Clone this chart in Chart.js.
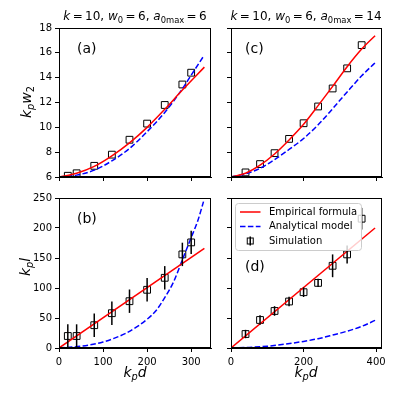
<!DOCTYPE html>
<html lang="en">
<head>
<meta charset="UTF-8">
<title>kp w2 and kp l versus kp d</title>
<script src="https://cdn.jsdelivr.net/npm/chart.js"></script>
<style>
  body { margin: 0; background: #fff; width: 399px; height: 399px; overflow: hidden; position: relative;
         font-family: "DejaVu Sans", sans-serif; color: #000; }
  canvas { position: absolute; }
  .txt { position: absolute; white-space: nowrap; line-height: 1; }
  .ttl { font-size: 12px; transform: translateX(-50%); }
  .lab { font-size: 14px; }
  .ylab { transform: translate(-50%, -50%) rotate(-90deg); }
  .xlab { transform: translateX(-50%); }
  .pan { font-size: 14px; }
  sub { font-size: 70%; vertical-align: -0.3em; line-height: 0; }
</style>
</head>
<body>
<canvas id="pa" width="200" height="185"></canvas>
<canvas id="pc" width="199" height="185"></canvas>
<canvas id="pb" width="200" height="186"></canvas>
<canvas id="pd" width="199" height="186"></canvas>

<div class="txt ttl" style="left:135px; top:10px;"><i>k</i>&thinsp;=&thinsp;10, <i>w</i><sub>0</sub>&thinsp;=&thinsp;6, <i>a</i><sub>0max</sub>&thinsp;=&thinsp;6</div>
<div class="txt ttl" style="left:306px; top:10px;"><i>k</i>&thinsp;=&thinsp;10, <i>w</i><sub>0</sub>&thinsp;=&thinsp;6, <i>a</i><sub>0max</sub>&thinsp;=&thinsp;14</div>
<div class="txt lab ylab" style="left:26px; top:102px;"><i>k<sub>p</sub>w</i><sub>2</sub></div>
<div class="txt lab ylab" style="left:25px; top:267px;"><i>k<sub>p</sub>l</i></div>
<div class="txt lab xlab" style="left:135px; top:365px;"><i>k<sub>p</sub>d</i></div>
<div class="txt lab xlab" style="left:306px; top:365px;"><i>k<sub>p</sub>d</i></div>
<div class="txt pan" style="left:77px; top:41px;">(a)</div>
<div class="txt pan" style="left:77px; top:211px;">(b)</div>
<div class="txt pan" style="left:245px; top:41px;">(c)</div>
<div class="txt pan" style="left:245px; top:259px;">(d)</div>

<script>
// ---- data ----
// a0max = 6 : panels (a) and (b)
const simD6 = [20, 40, 80, 120, 160, 200, 240, 280, 300];
const simW6 = [6.1, 6.3, 6.9, 7.8, 9.0, 10.3, 11.8, 13.45, 14.4];
const simL6 = [20, 20, 38, 58, 78, 97, 117, 156, 176];
const simLErr6 = [19.5, 19.5, 19.5, 19.5, 19.5, 19.5, 19.5, 19.5, 19.5];
const empW6D = [0, 40, 80, 120, 160, 200, 240, 280, 330];
const empW6 = [6.0, 6.3, 6.85, 7.7, 8.75, 10.0, 11.45, 13.0, 14.85];
const anaW6D = [0, 40, 80, 120, 160, 200, 240, 280, 300, 328];
const anaW6 = [6.0, 6.15, 6.55, 7.3, 8.3, 9.65, 11.2, 13.1, 14.2, 15.72];
const empL6D = [0, 330];
const empL6 = [0, 166];
const anaL6D = [0, 50, 100, 150, 180, 200, 220, 240, 260, 280, 300, 315, 328];
const anaL6 = [0, 3, 10, 24, 37, 48, 62, 84, 110, 147, 184, 212, 244];

// a0max = 14 : panels (c) and (d)
const simD14 = [40, 80, 120, 160, 200, 240, 280, 320, 360];
const simW14 = [6.37, 7.04, 7.92, 9.07, 10.33, 11.68, 13.13, 14.75, 16.62];
const simL14 = [23.3, 46.7, 61.7, 77.5, 93, 108.5, 137, 156, 215.5];
const simLErr14 = [7, 8, 8, 8, 8, 7, 19, 15, 18];
const empW14D = [0, 40, 80, 120, 160, 200, 240, 280, 320, 360, 397];
const empW14 = [6.0, 6.3, 6.95, 7.85, 8.98, 10.24, 11.75, 13.3, 14.88, 16.3, 17.38];
const anaW14D = [0, 40, 80, 120, 160, 200, 240, 280, 320, 360, 397];
const anaW14 = [6.0, 6.25, 6.7, 7.4, 8.22, 9.1, 10.2, 11.5, 12.85, 14.15, 15.2];
const empL14D = [0, 397];
const empL14 = [0, 200];
const anaL14D = [0, 50, 100, 150, 200, 240, 280, 320, 360, 397];
const anaL14 = [0, 1, 3, 6.5, 11, 15.5, 21.5, 28, 36, 46];

// ticks
const xTicks6 = [0, 100, 200, 300];
const xTicks14 = [0, 200, 400];
const yTicksW = [6, 8, 10, 12, 14, 16, 18];
const yTicksL = [0, 50, 100, 150, 200, 250];

const seriesNames = ['Empirical formula', 'Analytical model', 'Simulation'];

// ---- helpers ----
const pts = (xs, ys) => xs.map((x, i) => ({x: x, y: ys[i]}));

// chart area box in page pixels: left, top, right, bottom
function place(canvas, box) {
    canvas.style.left = (box[0] - 40) + 'px';
    canvas.style.top = (box[1] - 10) + 'px';
    canvas.width = box[2] - box[0] + 48;
    canvas.height = box[3] - box[1] + 36;
}

const frame = {
    id: 'frame',
    afterDatasetsDraw(chart) {
        const a = chart.chartArea, ctx = chart.ctx;
        ctx.save();
        ctx.strokeStyle = '#000';
        ctx.lineWidth = 1;
        ctx.strokeRect(Math.round(a.left) + 0.5, Math.round(a.top) + 0.5,
                       Math.round(a.right - a.left) - 1, Math.round(a.bottom - a.top) - 1);
        ctx.restore();
    }
};

const errorBars = {
    id: 'errorBars',
    afterDatasetsDraw(chart) {
        const ds = chart.data.datasets[2];
        if (!ds.errs) return;
        const ctx = chart.ctx, x = chart.scales.x, y = chart.scales.y, a = chart.chartArea;
        ctx.save();
        ctx.beginPath();
        ctx.rect(a.left, a.top, a.right - a.left, a.bottom - a.top);
        ctx.clip();
        ctx.strokeStyle = '#000';
        ctx.lineWidth = 1.5;
        ds.data.forEach((p, i) => {
            const px = x.getPixelForValue(p.x);
            ctx.beginPath();
            ctx.moveTo(px, y.getPixelForValue(p.y - ds.errs[i]));
            ctx.lineTo(px, y.getPixelForValue(p.y + ds.errs[i]));
            ctx.stroke();
        });
        ctx.restore();
    }
};

// matplotlib-like legend box inside panel (d)
const boxLegend = {
    id: 'boxLegend',
    afterDraw(chart) {
        if (!chart.options.plugins.boxLegend) return;
        const ctx = chart.ctx, a = chart.chartArea;
        const bx = a.left + 4.5, by = a.top + 5.5, bw = 126, bh = 47;
        ctx.save();
        ctx.beginPath();
        ctx.roundRect(bx, by, bw, bh, 3);
        ctx.fillStyle = 'rgba(255,255,255,0.8)';
        ctx.fill();
        ctx.strokeStyle = '#cccccc';
        ctx.lineWidth = 1;
        ctx.stroke();
        ctx.font = '10px "DejaVu Sans"';
        ctx.textBaseline = 'middle';
        ctx.fillStyle = '#000';
        const rows = [by + 8.5, by + 23, by + 37.5];
        const lx0 = bx + 4.5, lx1 = bx + 25;
        // red line
        ctx.strokeStyle = '#ff0000';
        ctx.lineWidth = 1.5;
        ctx.beginPath(); ctx.moveTo(lx0, rows[0]); ctx.lineTo(lx1, rows[0]); ctx.stroke();
        // blue dashed
        ctx.strokeStyle = '#0000ff';
        ctx.setLineDash([5.5, 2.4]);
        ctx.beginPath(); ctx.moveTo(lx0, rows[1]); ctx.lineTo(lx1, rows[1]); ctx.stroke();
        ctx.setLineDash([]);
        // marker with bar
        const mx = (lx0 + lx1) / 2;
        ctx.strokeStyle = '#000';
        ctx.beginPath(); ctx.moveTo(mx, rows[2] - 4.5); ctx.lineTo(mx, rows[2] + 4.5); ctx.stroke();
        ctx.lineWidth = 1;
        ctx.strokeRect(mx - 3, rows[2] - 3, 6, 6);
        seriesNames.forEach((n, i) => ctx.fillText(n, bx + 33.5, rows[i]));
        ctx.restore();
    }
};

function panel(id, box, xMax, xTicks, yMin, yMax, yTicks, showX, showY, emp, ana, sim, errs, legend) {
    const canvas = document.getElementById(id);
    place(canvas, box);
    const tickFont = {family: 'DejaVu Sans', size: 10};
    return new Chart(canvas.getContext('2d'), {
        type: 'scatter',
        data: {
            datasets: [{
                label: seriesNames[0],
                data: emp,
                showLine: true,
                borderColor: '#ff0000',
                borderWidth: 1.5,
                pointRadius: 0,
                cubicInterpolationMode: 'monotone'
            }, {
                label: seriesNames[1],
                data: ana,
                showLine: true,
                borderColor: '#0000ff',
                borderWidth: 1.5,
                borderDash: [5.5, 2.4],
                pointRadius: 0,
                cubicInterpolationMode: 'monotone'
            }, {
                label: seriesNames[2],
                data: sim,
                errs: errs,
                pointStyle: 'rect',
                pointRadius: 4.8,
                borderColor: '#000',
                borderWidth: 1,
                backgroundColor: 'rgba(0,0,0,0)'
            }]
        },
        options: {
            responsive: false,
            animation: false,
            devicePixelRatio: 1,
            layout: {padding: {left: 0, top: 10, right: 8, bottom: 0}},
            plugins: {legend: {display: false}, tooltip: {enabled: false}, boxLegend: legend},
            scales: {
                x: {
                    type: 'linear', min: 0, max: xMax,
                    afterBuildTicks: s => { s.ticks = xTicks.map(v => ({value: v})); },
                    afterFit: s => { s.height = 26; },
                    grid: {drawOnChartArea: false, drawTicks: true, tickLength: 4, color: '#000'},
                    border: {display: true, color: '#000'},
                    ticks: {font: tickFont, color: '#000', padding: 4, maxRotation: 0,
                            callback: v => showX ? v : ''}
                },
                y: {
                    type: 'linear', min: yMin, max: yMax,
                    afterBuildTicks: s => { s.ticks = yTicks.map(v => ({value: v})); },
                    afterFit: s => { s.width = 40; },
                    grid: {drawOnChartArea: false, drawTicks: true, tickLength: 4, color: '#000'},
                    border: {display: true, color: '#000'},
                    ticks: {font: tickFont, color: '#000', padding: 3,
                            callback: v => showY ? v : ''}
                }
            }
        },
        plugins: [errorBars, frame, boxLegend]
    });
}

panel('pa', [59, 28, 211, 177], 345, xTicks6, 6, 18, yTicksW, false, true,
      pts(empW6D, empW6), pts(anaW6D, anaW6), pts(simD6, simW6), null, false);
panel('pc', [231, 28, 382, 177], 416, xTicks14, 6, 18, yTicksW, false, false,
      pts(empW14D, empW14), pts(anaW14D, anaW14), pts(simD14, simW14), null, false);
panel('pb', [59, 198, 211, 348], 345, xTicks6, 0, 250, yTicksL, true, true,
      pts(empL6D, empL6), pts(anaL6D, anaL6), pts(simD6, simL6), simLErr6, false);
panel('pd', [231, 198, 382, 348], 416, xTicks14, 0, 250, yTicksL, true, false,
      pts(empL14D, empL14), pts(anaL14D, anaL14), pts(simD14, simL14), simLErr14, true);
</script>
</body>
</html>
